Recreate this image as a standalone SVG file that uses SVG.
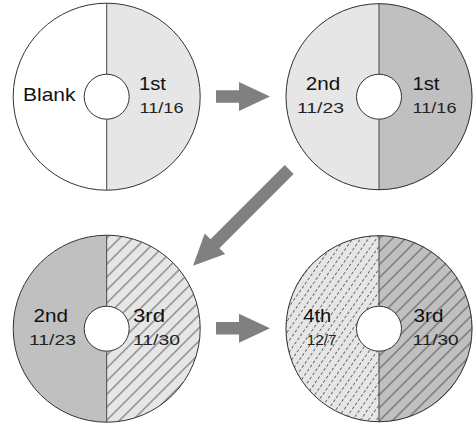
<svg xmlns="http://www.w3.org/2000/svg" width="474" height="424" viewBox="0 0 474 424">
<style>
.rim{fill:none;stroke:#333;stroke-width:1}
.div{stroke:#444;stroke-width:1}
.hole{fill:#fff;stroke:#333;stroke-width:1}
.lt{fill:#e6e6e6}
.md{fill:#c0c0c0}
.wt{fill:#fff}
.lb{font-family:"Liberation Sans",Arial,sans-serif;font-size:19px;fill:#111}
.dt{font-family:"Liberation Sans",Arial,sans-serif;font-size:15px;fill:#222}
.arr{fill:#808080}
</style>
<defs>
<pattern id="hatch" patternUnits="userSpaceOnUse" width="9.2" height="10" patternTransform="rotate(45)">
<line x1="4.6" y1="0" x2="4.6" y2="10" stroke="#333" stroke-width="0.8"/>
</pattern>
<pattern id="dash" patternUnits="userSpaceOnUse" width="6.5" height="10" patternTransform="rotate(35)">
<line x1="3.25" y1="0" x2="3.25" y2="10" stroke="#333" stroke-width="0.7" stroke-dasharray="3 2"/>
</pattern>
<path id="arrowR" d="M0,-6.25 H23 V-14.5 L54,0 L23,14.5 V6.25 H0 Z"/>
</defs>

<g id="disk1">
<path class="wt" d="M106.7,3.2 A93.5,93.5 0 0 0 106.7,190.2 Z"/>
<path class="lt" d="M106.7,3.2 A93.5,93.5 0 0 1 106.7,190.2 Z"/>
<circle class="rim" cx="106.7" cy="96.7" r="93.5"/>
<line class="div" x1="106.7" y1="3.2" x2="106.7" y2="190.2"/>
<circle class="hole" cx="106.7" cy="96.7" r="22.5"/>
<text class="lb" x="23" y="101" textLength="52.5" lengthAdjust="spacingAndGlyphs">Blank</text>
<text class="lb" x="139" y="90" textLength="27" lengthAdjust="spacingAndGlyphs">1st</text>
<text class="dt" x="139.5" y="112.7" textLength="44" lengthAdjust="spacingAndGlyphs">11/16</text>
</g>

<g id="disk2">
<path class="lt" d="M379,3.2 A93.5,93.5 0 0 0 379,190.2 Z"/>
<path class="md" d="M379,3.2 A93.5,93.5 0 0 1 379,190.2 Z"/>
<circle class="rim" cx="379" cy="96.7" r="93"/>
<line class="div" x1="379" y1="3.2" x2="379" y2="190.2"/>
<circle class="hole" cx="379" cy="96.7" r="22.5"/>
<text class="lb" x="305.8" y="90" textLength="34.5" lengthAdjust="spacingAndGlyphs">2nd</text>
<text class="dt" x="297" y="112.7" textLength="47" lengthAdjust="spacingAndGlyphs">11/23</text>
<text class="lb" x="412.5" y="90" textLength="27" lengthAdjust="spacingAndGlyphs">1st</text>
<text class="dt" x="412.5" y="112.7" textLength="44" lengthAdjust="spacingAndGlyphs">11/16</text>
</g>

<g id="disk3">
<path class="md" d="M106.7,235.2 A93.5,93.5 0 0 0 106.7,422.2 Z"/>
<path class="lt" d="M106.7,235.2 A93.5,93.5 0 0 1 106.7,422.2 Z"/>
<path fill="url(#hatch)" d="M106.7,235.2 A93.5,93.5 0 0 1 106.7,422.2 Z"/>
<circle class="rim" cx="106.7" cy="328.7" r="93.5"/>
<line class="div" x1="106.7" y1="235.2" x2="106.7" y2="422.2"/>
<circle class="hole" cx="106.7" cy="328.7" r="22.5"/>
<text class="lb" x="33.5" y="322" textLength="34.5" lengthAdjust="spacingAndGlyphs">2nd</text>
<text class="dt" x="29" y="344.7" textLength="47" lengthAdjust="spacingAndGlyphs">11/23</text>
<text class="lb" x="133" y="322" textLength="32" lengthAdjust="spacingAndGlyphs">3rd</text>
<text class="dt" x="133" y="344.7" textLength="47" lengthAdjust="spacingAndGlyphs">11/30</text>
</g>

<g id="disk4">
<path class="lt" d="M379,235.2 A93.5,93.5 0 0 0 379,422.2 Z"/>
<path fill="url(#dash)" d="M379,235.2 A93.5,93.5 0 0 0 379,422.2 Z"/>
<path class="md" d="M379,235.2 A93.5,93.5 0 0 1 379,422.2 Z"/>
<path fill="url(#hatch)" d="M379,235.2 A93.5,93.5 0 0 1 379,422.2 Z"/>
<circle class="rim" cx="379" cy="328.7" r="93"/>
<line class="div" x1="379" y1="235.2" x2="379" y2="422.2"/>
<circle class="hole" cx="379" cy="328.7" r="22.5"/>
<text class="lb" x="303.3" y="322" textLength="28" lengthAdjust="spacingAndGlyphs">4th</text>
<text class="dt" x="306.7" y="344.7" textLength="30" lengthAdjust="spacingAndGlyphs">12/7</text>
<text class="lb" x="413.5" y="322" textLength="30" lengthAdjust="spacingAndGlyphs">3rd</text>
<text class="dt" x="412.5" y="344.7" textLength="46" lengthAdjust="spacingAndGlyphs">11/30</text>
</g>

<g id="connectors">
<use href="#arrowR" class="arr" transform="translate(216,96.5)"/>
<path class="arr" transform="translate(289.2,169.5) rotate(135)" d="M0,-6.25 H105 V-14.5 L136,0 L105,14.5 V6.25 H0 Z"/>
<use href="#arrowR" class="arr" transform="translate(216,328.2)"/>
</g>
</svg>
